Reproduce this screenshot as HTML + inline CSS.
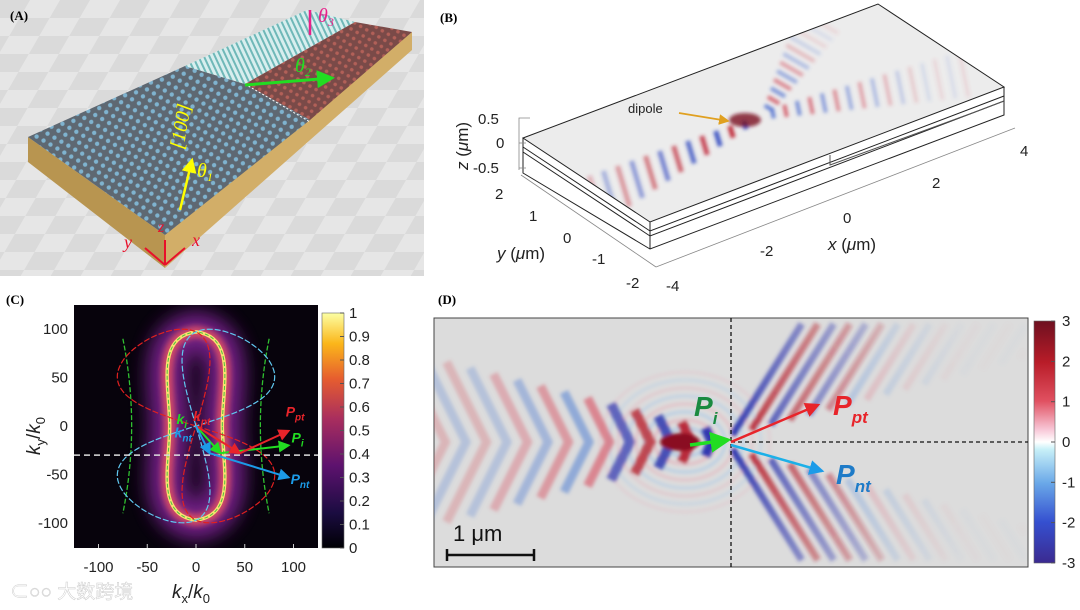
<!DOCTYPE html>
<html><head><meta charset="utf-8"><style>
html,body{margin:0;padding:0;background:#fff;width:1080px;height:610px;overflow:hidden;}
svg{display:block;font-family:"Liberation Sans","Noto Sans CJK SC",sans-serif;}
.lab{font-family:"Liberation Serif",serif;font-weight:bold;font-size:13px;}
</style></head><body>
<svg id="fig" width="1080" height="610" viewBox="0 0 1080 610">
<defs>
 <filter id="blur1" x="-20%" y="-20%" width="140%" height="140%"><feGaussianBlur stdDeviation="1.8"/></filter>
 <filter id="blur3" x="-50%" y="-50%" width="200%" height="200%"><feGaussianBlur stdDeviation="3"/></filter>
 <filter id="blur6" x="-80%" y="-50%" width="260%" height="200%"><feGaussianBlur stdDeviation="9"/></filter>
 <linearGradient id="cbC" x1="0" y1="1" x2="0" y2="0">
  <stop offset="0" stop-color="#000004"/><stop offset="0.15" stop-color="#1b0c41"/>
  <stop offset="0.35" stop-color="#5d126e"/><stop offset="0.55" stop-color="#a92e5e"/>
  <stop offset="0.72" stop-color="#e65d2f"/><stop offset="0.87" stop-color="#fbb61a"/>
  <stop offset="1" stop-color="#fcffa4"/></linearGradient>
 <linearGradient id="cbD" x1="0" y1="1" x2="0" y2="0">
  <stop offset="0" stop-color="#3b2a90"/><stop offset="0.17" stop-color="#3550d0"/>
  <stop offset="0.33" stop-color="#6aa8e8"/><stop offset="0.47" stop-color="#c8f0f8"/>
  <stop offset="0.5" stop-color="#ffffff"/><stop offset="0.55" stop-color="#f8c8d8"/>
  <stop offset="0.67" stop-color="#e05060"/><stop offset="0.83" stop-color="#b81c28"/>
  <stop offset="1" stop-color="#6e1020"/></linearGradient>
 <radialGradient id="fadeG" gradientUnits="userSpaceOnUse" cx="731" cy="442" r="260">
  <stop offset="0" stop-color="#fff" stop-opacity="1"/><stop offset="0.3" stop-color="#fff" stop-opacity="0.7"/><stop offset="1" stop-color="#fff" stop-opacity="0.1"/></radialGradient>
 <mask id="fadeMask"><rect x="731" y="318" width="297" height="249" fill="url(#fadeG)"/></mask>
 <pattern id="checker" width="60" height="60" patternUnits="userSpaceOnUse" patternTransform="skewX(-30) scale(1,0.6)">
  <rect width="60" height="60" fill="#e6e6e6"/><rect width="30" height="30" fill="#dadada"/><rect x="30" y="30" width="30" height="30" fill="#dadada"/></pattern>
 <pattern id="grey" width="8" height="8" patternUnits="userSpaceOnUse" patternTransform="rotate(30)">
  <rect width="8" height="8" fill="#5e6872"/><circle cx="4" cy="4" r="2.2" fill="#7fb3cf"/></pattern>
 <pattern id="cyan" width="5" height="5" patternUnits="userSpaceOnUse" patternTransform="rotate(-25)">
  <rect width="5" height="5" fill="#d8eeee"/><rect width="2" height="5" fill="#6fb8b8"/></pattern>
 <pattern id="red" width="7" height="7" patternUnits="userSpaceOnUse" patternTransform="rotate(30)">
  <rect width="7" height="7" fill="#7a4a48"/><circle cx="3.5" cy="3.5" r="1.8" fill="#b26058"/></pattern>
 <clipPath id="clipB"><polygon points="523,138 878,4 1004,87 650,222"/></clipPath>
 <clipPath id="clipD"><rect x="434" y="318" width="594" height="249"/></clipPath>
 <clipPath id="clipC"><rect x="74" y="305" width="244" height="243"/></clipPath>
 <marker id="mR" markerWidth="6" markerHeight="6" refX="5" refY="3" orient="auto"><path d="M0,0L6,3L0,6z" fill="#e8242a"/></marker>
 <marker id="mG" markerWidth="6" markerHeight="6" refX="5" refY="3" orient="auto"><path d="M0,0L6,3L0,6z" fill="#22dd22"/></marker>
 <marker id="mB" markerWidth="6" markerHeight="6" refX="5" refY="3" orient="auto"><path d="M0,0L6,3L0,6z" fill="#1c9be8"/></marker>
 <marker id="mY" markerWidth="6" markerHeight="6" refX="5" refY="3" orient="auto"><path d="M0,0L6,3L0,6z" fill="#ffff00"/></marker>
 <marker id="mO" markerWidth="6" markerHeight="6" refX="5" refY="3" orient="auto"><path d="M0,0L6,3L0,6z" fill="#e0a020"/></marker>
</defs>

<!-- Panel A -->
<g>
 <rect x="0" y="0" width="424" height="276" fill="url(#checker)"/>
 <polygon points="28,137 165,235 165,268 28,162" fill="#b89550"/>
 <polygon points="165,235 412,32 412,50 165,268" fill="#d2ae68"/>
 <polygon points="28,137 185,66 245,84 310,120 165,235" fill="url(#grey)"/>
 <polygon points="185,66 307,10 355,22 245,84" fill="url(#cyan)"/>
 <polygon points="245,84 355,22 412,32 310,120" fill="url(#red)"/>
 <polyline points="245,84 310,122" stroke="#fff" stroke-dasharray="2,2" fill="none"/>
 <text x="10" y="20" class="lab">(A)</text>
 <line x1="180" y1="210" x2="192" y2="160" stroke="#ffff00" stroke-width="2.5" marker-end="url(#mY)"/>
 <text x="0" y="0" transform="translate(183,150) rotate(-80)" fill="#ffff00" font-family="Liberation Serif" font-style="italic" font-size="20">[100]</text>
 <text x="197" y="177" fill="#ffff00" font-family="Liberation Serif" font-style="italic" font-size="20">θ<tspan font-size="12" dy="4">1</tspan></text>
 <line x1="245" y1="85" x2="332" y2="78" stroke="#22dd22" stroke-width="3" marker-end="url(#mG)"/>
 <text x="295" y="72" fill="#22dd22" font-family="Liberation Serif" font-style="italic" font-size="20">θ<tspan font-size="12" dy="4">2</tspan></text>
 <line x1="310" y1="35" x2="310" y2="10" stroke="#e8208a" stroke-width="2.5"/>
 <text x="318" y="22" fill="#e8208a" font-family="Liberation Serif" font-style="italic" font-size="20">θ<tspan font-size="12" dy="4">3</tspan></text>
 <g stroke="#e8102a" stroke-width="2" fill="none">
  <line x1="165" y1="265" x2="165" y2="240"/><line x1="165" y1="265" x2="145" y2="248"/><line x1="165" y1="265" x2="185" y2="248"/>
 </g>
 <text x="158" y="232" fill="#e8102a" font-family="Liberation Serif" font-style="italic" font-size="16">z</text>
 <text x="124" y="248" fill="#e8102a" font-family="Liberation Serif" font-style="italic" font-size="18">y</text>
 <text x="192" y="246" fill="#e8102a" font-family="Liberation Serif" font-style="italic" font-size="18">x</text>
</g>

<!-- Panel B -->
<g>
 <text x="440" y="22" class="lab">(B)</text>
 <polygon points="523,138 878,4 1004,87 650,222" fill="#ececec"/>
 <g clip-path="url(#clipB)"><g id="bWaves" filter="url(#blur1)"></g></g>
 <g stroke="#222" stroke-width="1" fill="none">
  <polygon points="523,138 878,4 1004,87 650,222"/>
  <polyline points="523,138 523,173 650,249 1004,115 1004,87"/>
  <line x1="650" y1="222" x2="650" y2="249"/>
  <polyline points="523,147 650,231 1004,96"/>
  <polyline points="523,152 650,236 1004,101"/>
  <polyline points="1004,101 975,112 830,165 830,155" stroke="#555"/>
 </g>
 <g stroke="#888" stroke-width="0.8" fill="none">
  <polyline points="530,118 519,118 519,170"/>
  <line x1="519" y1="143" x2="526" y2="143"/><line x1="519" y1="168" x2="526" y2="168"/>
  <line x1="521" y1="175" x2="656" y2="267"/>
  <line x1="656" y1="267" x2="1015" y2="128"/>
 </g>
 <g font-size="15" fill="#222">
  <text x="478" y="124">0.5</text><text x="496" y="148">0</text><text x="473" y="173">-0.5</text>
  <text x="0" y="0" transform="translate(468,170) rotate(-90)" font-size="17"><tspan font-style="italic">z</tspan> (<tspan font-style="italic">μ</tspan>m)</text>
  <text x="495" y="199">2</text><text x="529" y="221">1</text><text x="563" y="243">0</text><text x="592" y="264">-1</text><text x="626" y="288">-2</text>
  <text x="497" y="259" font-size="17"><tspan font-style="italic">y</tspan> (<tspan font-style="italic">μ</tspan>m)</text>
  <text x="666" y="291">-4</text><text x="760" y="256">-2</text><text x="843" y="223">0</text><text x="932" y="188">2</text><text x="1020" y="156">4</text>
  <text x="828" y="250" font-size="17"><tspan font-style="italic">x</tspan> (<tspan font-style="italic">μ</tspan>m)</text>
  <text x="628" y="113" font-size="13">dipole</text>
 </g>
 <line x1="679" y1="113" x2="728" y2="121" stroke="#e0a020" stroke-width="1.8" marker-end="url(#mO)"/>
</g>

<!-- Panel C -->
<g>
 <text x="6" y="304" class="lab">(C)</text>
 <rect x="74" y="305" width="244" height="243" fill="#07030c"/>
 <g id="cMarks" clip-path="url(#clipC)"></g>
 <rect x="322" y="313" width="22" height="235" fill="url(#cbC)" stroke="#666" stroke-width="0.6"/>
 <g id="cAxes" font-size="15" fill="#222"></g>
 <text x="0" y="0" transform="translate(40,455) rotate(-90)" font-size="19" fill="#222"><tspan font-style="italic">k</tspan><tspan font-size="13" dy="5">y</tspan><tspan dy="-5">/</tspan><tspan font-style="italic">k</tspan><tspan font-size="13" dy="5">0</tspan></text>
 <text x="172" y="598" font-size="19" fill="#222"><tspan font-style="italic">k</tspan><tspan font-size="13" dy="5">x</tspan><tspan dy="-5">/</tspan><tspan font-style="italic">k</tspan><tspan font-size="13" dy="5">0</tspan></text>
 <text x="10" y="598" font-size="19" fill="#fff" opacity="0.75" stroke="#bbb" stroke-width="0.5">⊂○○ 大数跨境</text>
</g>

<!-- Panel D -->
<g>
 <text x="438" y="304" class="lab">(D)</text>
 <rect x="434" y="318" width="594" height="249" fill="#dcdcdc" stroke="#444" stroke-width="1"/>
 <g clip-path="url(#clipD)"><g id="dWaves" filter="url(#blur1)"></g></g>
 <line x1="731" y1="318" x2="731" y2="567" stroke="#111" stroke-width="1.3" stroke-dasharray="4,3"/>
 <line x1="731" y1="442" x2="1028" y2="442" stroke="#111" stroke-width="1.3" stroke-dasharray="4,3"/>
 <line x1="690" y1="445" x2="728" y2="440" stroke="#22dd22" stroke-width="3.5" marker-end="url(#mG)"/>
 <line x1="731" y1="442" x2="818" y2="405" stroke="#e8242a" stroke-width="2.5" marker-end="url(#mR)"/>
 <line x1="731" y1="445" x2="822" y2="471" stroke="#1cb0e8" stroke-width="2.5" marker-end="url(#mB)"/>
 <text x="694" y="416" fill="#1a8a40" font-weight="bold" font-style="italic" font-size="28">P<tspan font-size="17" dy="8">i</tspan></text>
 <text x="833" y="415" fill="#e8242a" font-weight="bold" font-style="italic" font-size="28">P<tspan font-size="17" dy="8">pt</tspan></text>
 <text x="836" y="484" fill="#1e7bc8" font-weight="bold" font-style="italic" font-size="28">P<tspan font-size="17" dy="8">nt</tspan></text>
 <text x="453" y="541" font-size="22" fill="#111">1 μm</text>
 <g stroke="#111" stroke-width="2.5"><line x1="447" y1="555" x2="534" y2="555"/><line x1="447" y1="549" x2="447" y2="561"/><line x1="534" y1="549" x2="534" y2="561"/></g>
 <rect x="1034" y="321" width="21" height="242" fill="url(#cbD)" stroke="#666" stroke-width="0.6"/>
 <g id="dAxes" font-size="15" fill="#222"></g>
</g>
</svg>
<script>
var NS="http://www.w3.org/2000/svg";
function mk(tag,attrs,parent){var e=document.createElementNS(NS,tag);for(var k in attrs)e.setAttribute(k,attrs[k]);parent.appendChild(e);return e;}

// ---- Panel C data ----
var cxTicks=[-100,-50,0,50,100];
var cyTicks=[100,50,0,-50,-100];
var cbCTicks=[1,0.9,0.8,0.7,0.6,0.5,0.4,0.3,0.2,0.1,0];
var kLine=-30;
var kTips=[[25,-28],[45,-28],[14,-28]];     // k_i, k_pt, k_nt
var pTips=[[95,-20],[95,-5],[95,-53]];      // P_i, P_pt, P_nt
// ---- Panel D data ----
var cbDTicks=[3,2,1,0,-1,-2,-3];

function X(k){return 196+k*0.975;}
function Y(k){return 426-k*0.97;}

var cm=document.getElementById('cMarks');
var ca=document.getElementById('cAxes');
var pn="M"+X(27)+","+Y(0)+" C"+X(27)+","+Y(40)+" "+X(42)+","+Y(92)+" "+X(0)+","+Y(97)+" C"+X(-42)+","+Y(92)+" "+X(-27)+","+Y(40)+" "+X(-27)+","+Y(0)+
 " C"+X(-27)+","+Y(-40)+" "+X(-42)+","+Y(-92)+" "+X(0)+","+Y(-97)+" C"+X(42)+","+Y(-92)+" "+X(27)+","+Y(-40)+" "+X(27)+","+Y(0)+"Z";
var g1=mk('path',{d:pn,fill:'none',stroke:'#7a2090','stroke-width':40,filter:'url(#blur6)',opacity:0.9},cm);


mk('path',{d:pn,fill:'none',stroke:'#d04868','stroke-width':12,filter:'url(#blur3)'},cm);
var g2=mk('path',{d:pn,fill:'none',stroke:'#fbe070','stroke-width':3.5},cm);


mk('path',{d:pn,fill:'none',stroke:'#50c040','stroke-width':1,'stroke-dasharray':'4,2'},cm);
[-1,1].forEach(function(s){
 var p=mk('path',{d:"M"+X(75*s)+","+Y(90)+" Q"+X(57*s)+","+Y(0)+" "+X(75*s)+","+Y(-90),fill:'none',stroke:'#30c030','stroke-width':1.3,'stroke-dasharray':'5,2'},cm);
 
 
});
function eight(theta,col,name){
 var d="";for(var i=0;i<=160;i++){var t=i/160*2*Math.PI;var u=102*Math.sin(t),v=100*Math.sin(t)*Math.cos(t);
  var x=u*Math.cos(theta)-v*Math.sin(theta),y=u*Math.sin(theta)+v*Math.cos(theta);
  d+=(i?"L":"M")+X(x).toFixed(1)+","+Y(y).toFixed(1);}
 var p=mk('path',{d:d,fill:'none',stroke:col,'stroke-width':1.2,'stroke-dasharray':'6,2'},cm);
 
 
}
eight(118*Math.PI/180,'#e02020','red-eight');
eight(62*Math.PI/180,'#60c8f0','cyan-eight');
var wl=mk('line',{x1:74,x2:318,y1:Y(kLine),y2:Y(kLine),stroke:'#ddd','stroke-width':1.5,'stroke-dasharray':'6,4'},cm);


var cols=['#22dd22','#e8242a','#1c9be8'],mks=['url(#mG)','url(#mR)','url(#mB)'];
for(var i=0;i<3;i++){
 var a=mk('line',{x1:X(0),y1:Y(0),x2:X(kTips[i][0]),y2:Y(kTips[i][1]),stroke:cols[i],'stroke-width':2,'marker-end':mks[i]},cm);
 
 
 var b=mk('line',{x1:X(kTips[i][0]),y1:Y(kTips[i][1]),x2:X(pTips[i][0]),y2:Y(pTips[i][1]),stroke:cols[i],'stroke-width':2,'marker-end':mks[i]},cm);
 
 
}
var lbls=[["k","i",-20,2,'#22dd22'],["k","pt",-3,5,'#e8242a'],["k","nt",-22,-12,'#1c9be8'],["P","pt",92,10,'#e8242a'],["P","i",98,-17,'#22dd22'],["P","nt",97,-60,'#1c9be8']];
lbls.forEach(function(l){
 var t=mk('text',{x:X(l[2]),y:Y(l[3]),fill:l[4],'font-weight':'bold','font-style':'italic','font-size':14},cm);
 
 
 t.textContent=l[0];var s=mk('tspan',{'font-size':10,dy:4},t);s.textContent=l[1];
});
cxTicks.forEach(function(v){
 mk('line',{x1:X(v),x2:X(v),y1:548,y2:544,stroke:'#ccc'},ca);
 var t=mk('text',{x:X(v),y:572,'text-anchor':'middle'},ca);
 
 
 t.textContent=v;});
cyTicks.forEach(function(v){
 var t=mk('text',{x:68,y:Y(v)+5,'text-anchor':'end'},ca);
 
 
 t.textContent=v;});
cbCTicks.forEach(function(v){
 var y=548-v*235;
 mk('line',{x1:340,x2:344,y1:y,y2:y,stroke:'#555'},ca);
 var t=mk('text',{x:349,y:y+5},ca);
 
 
 t.textContent=v;});

// ---- Panel D waves ----
var dw=document.getElementById('dWaves');
var RED='#b8202e',BLUE='#3038b0';
for(var k=0;k<8;k++){
 mk('ellipse',{cx:685,cy:442,rx:22+k*9,ry:14+k*8,fill:'none',stroke:k%2?'#e8a8b4':'#9cc4ec','stroke-width':2.5,opacity:0.75-k*0.07},dw);
}
for(var i=0;i<14;i++){
 var x=712-i*20.5,h=14+i*6,dx=h*0.5,op=Math.max(0.3,1-i*0.07);
 var c=i<5?(i%2?RED:BLUE):(i%2?'#d85868':'#5a84d4');
 var p=mk('polyline',{points:(x-dx)+","+(442-h)+" "+x+","+442+" "+(x-dx)+","+(442+h),fill:'none',stroke:c,'stroke-width':i<5?10:9,opacity:op},dw);
 
 
}
mk('ellipse',{cx:680,cy:442,rx:20,ry:9,fill:'#8a1020'},dw);
var rg=mk('g',{mask:'url(#fadeMask)'},dw);
var ang=58*Math.PI/180,ca2=Math.cos(ang),sa=Math.sin(ang);
var aMax=118/sa;
for(var i=0;i<16;i++){
 var vx=728+i*16,a0=8+i*6,a1=Math.min(a0+150,aMax);
 if(a0>=a1)continue;
 var c=i<6?(i%2?RED:BLUE):(i%2?'#e07888':'#6c9ce0');
 [-1,1].forEach(function(s){
  var l=mk('line',{x1:vx+a0*ca2,y1:442+s*a0*sa,x2:Math.min(vx+a1*ca2,1025),y2:442+s*Math.min(a1,(1025-vx)/ca2)*sa,stroke:c,'stroke-width':7,opacity:Math.max(0.3,1-i*0.06)},rg);
  
  
 });
}

var da=document.getElementById('dAxes');
cbDTicks.forEach(function(v){
 var y=442-v*40.3;
 mk('line',{x1:1051,x2:1055,y1:y,y2:y,stroke:'#555'},da);
 var t=mk('text',{x:1062,y:y+5},da);
 
 
 t.textContent=v;});

// ---- Panel B waves ----
var bw=document.getElementById('bWaves');
function branch(g,ox,oy,dx,dy,n,sp,L0,Lg,w,fade){
 var px=-dy,py=dx;
 for(var i=0;i<n;i++){
  var cx=ox+dx*(i*sp+8),cy=oy+dy*(i*sp+8),L=L0+i*Lg;
  var s=mk('line',{x1:cx-px*L,y1:cy-py*L,x2:cx+px*L,y2:cy+py*L,stroke:i%2?'#d04858':'#5070d0','stroke-width':w,opacity:Math.max(0.12,0.85-i*fade)},g);
  
  
 }
}
for(var i=0;i<13;i++){
 var cx=745-i*13.5,cy=125+i*6.8,L=4+i*1.8;
 var s=mk('line',{x1:cx-L*0.3,y1:cy-L,x2:cx+L*0.3,y2:cy+L,stroke:i%2?'#c02838':'#3048c0','stroke-width':5,opacity:Math.max(0.2,1-i*0.065)},bw);
 
 
}
branch(bw,765,115,0.5,-0.87,12,9,5,1.6,4,0.08);
branch(bw,765,115,0.98,-0.2,16,13,5,1.2,4,0.06);
mk('ellipse',{cx:745,cy:120,rx:16,ry:7,fill:'#7a1020',opacity:0.8},bw);
</script>
</body></html>
